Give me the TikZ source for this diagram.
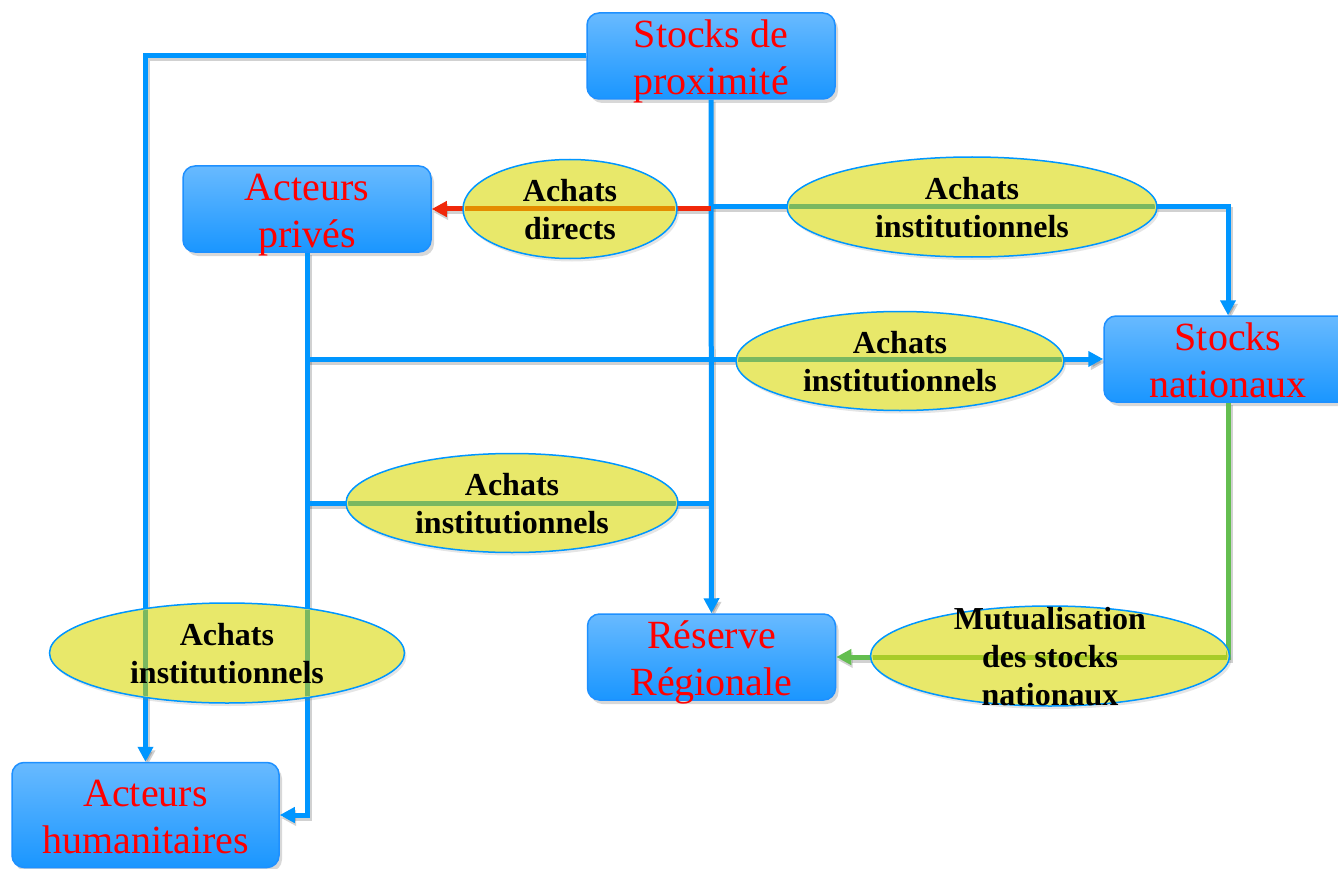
\documentclass[tikz,border=0pt]{standalone}
\usepackage{fontspec}
\setmainfont{Liberation Serif}
\usetikzlibrary{arrows.meta,shapes.geometric,shadows}
\definecolor{lnblue}{RGB}{0,150,255}
\definecolor{lnred}{RGB}{240,40,10}
\definecolor{lngreen}{RGB}{100,190,80}
\definecolor{tintblue}{RGB}{122,184,96}
\definecolor{tintred}{RGB}{228,140,0}
\definecolor{tintgreen}{RGB}{168,204,40}
\definecolor{boxtop}{RGB}{104,186,255}
\definecolor{boxbot}{RGB}{26,150,255}
\definecolor{boxborder}{RGB}{30,144,255}
\definecolor{ellfill}{RGB}{232,232,106}
\newcommand\hiStrut{\rule{0pt}{40pt}}
\newcommand\loStrut{\rule[-10pt]{0pt}{10pt}}
\newcommand\ehiStrut{\rule{0pt}{31pt}}
\newcommand\eloStrut{\rule[-9pt]{0pt}{9pt}}
\tikzset{
  box/.style={rectangle, rounded corners=12pt, draw=boxborder, line width=1.5pt,
    top color=boxtop, bottom color=boxbot, minimum width=248pt, minimum height=86pt,
    inner sep=0pt,
    drop shadow={shadow xshift=3pt, shadow yshift=-4pt, opacity=.3}},
  boxpos/.style={rectangle, minimum width=248pt, minimum height=86pt, inner sep=0pt},
  btext/.style={align=center, text=red, font=\fontsize{40}{47}\selectfont, inner sep=0pt},
  oval/.style={ellipse, draw=lnblue, line width=1.5pt, fill=ellfill, inner sep=0pt,
    drop shadow={shadow xshift=2pt, shadow yshift=-3pt, opacity=.2}},
  etext/.style={align=center, font=\fontsize{32}{38}\selectfont\bfseries, inner sep=0pt},
  bl/.style={draw=lnblue, line width=5pt},
  rl/.style={draw=lnred, line width=5pt},
  gl/.style={draw=lngreen, line width=5pt},
  tip/.style={-{Triangle[length=15pt,width=15pt]}},
}
\newcommand\drawLinks{%
  \draw[bl,tip] (sp.west) -| (ah.north);
  \draw[bl,tip] (sp.south) -- (rr.north);
  \draw[bl,tip] (ap.south) |- (ah.east);
  \draw[bl,tip] (ap.south |- sn.west) -- (sn.west);
  \draw[bl] (ap.south |- c4) -- (sp.south |- c4);
  \draw[bl,tip] (sp.south |- c2) -| (sn.north);
  \draw[rl,tip] (sp.south |- ap.east) -- (ap.east);
  \draw[gl,tip] (sn.south) |- (rr.east);
}
\begin{document}
\begin{tikzpicture}[x=1pt,y=-1pt]
\useasboundingbox (0,0) rectangle (1338,869);
\clip (0,0) rectangle (1338,869);
\fill[white] (0,0) rectangle (1338,869);
% ellipse centres
\coordinate (c1) at (570,209);
\coordinate (c2) at (972,207);
\coordinate (c3) at (900,361);
\coordinate (c4) at (512,503);
\coordinate (c5) at (227,653);
\coordinate (c6) at (1050,656);
% box positions (for the link shadows)
\path node[boxpos] (sp) at (711,56) {}
      node[boxpos] (ap) at (307,209) {}
      node[boxpos] (sn) at (1228,359) {}
      node[boxpos] (rr) at (711.5,657) {}
      node[boxpos, minimum width=267pt, minimum height=105pt] (ah) at (145.5,815) {};
% link shadows
\begin{scope}[transform canvas={xshift=2pt,yshift=-3pt}]
  \tikzset{bl/.style={draw=black, opacity=.18, line width=5pt},
           rl/.style={draw=black, opacity=.18, line width=5pt},
           gl/.style={draw=black, opacity=.18, line width=5pt}}
  \drawLinks
\end{scope}
% boxes
\node[box] (sp) at (711,56) {};
\node[box] (ap) at (307,209) {};
\node[box] (sn) at (1228,359) {};
\node[box] (rr) at (711.5,657) {};
\node[box, minimum width=267pt, minimum height=105pt] (ah) at (145.5,815) {};
% links
\drawLinks
% box texts
\node[btext] (spt) at (sp) {\hiStrut Stocks de\\proximité\loStrut};
\node[btext] (apt) at (ap) {\hiStrut Acteurs\\privés\loStrut};
\node[btext] (snt) at (sn) {\hiStrut Stocks\\nationaux\loStrut};
\node[btext] (rrt) at (rr) {\hiStrut Réserve\\Régionale\loStrut};
\node[btext] (aht) at (ah) {\hiStrut Acteurs\\humanitaires\loStrut};
% ellipses
\node[oval, minimum width=214pt, minimum height=99pt] (e1) at (c1) {};
\node[oval, minimum width=370pt, minimum height=100pt] (e2) at (c2) {};
\node[oval, minimum width=328pt, minimum height=99pt] (e3) at (c3) {};
\node[oval, minimum width=332pt, minimum height=99pt] (e4) at (c4) {};
\node[oval, minimum width=355pt, minimum height=100pt] (e5) at (c5) {};
\node[oval, minimum width=359pt, minimum height=100pt] (e6) at (c6) {};
% links seen through the ellipses
\begin{scope}
  \clip (c1) ellipse [x radius=105pt, y radius=48pt]
        (c2) ellipse [x radius=183pt, y radius=48.5pt]
        (c3) ellipse [x radius=162pt, y radius=48pt]
        (c4) ellipse [x radius=164pt, y radius=48pt]
        (c5) ellipse [x radius=175.5pt, y radius=48.5pt]
        (c6) ellipse [x radius=177.5pt, y radius=48.5pt];
  \tikzset{bl/.style={draw=tintblue, line width=5pt},
           rl/.style={draw=tintred, line width=5pt},
           gl/.style={draw=tintgreen, line width=5pt}}
  \drawLinks
\end{scope}
% ellipse texts
\node[etext] (t1) at (c1) {\ehiStrut Achats\\directs\eloStrut};
\node[etext] (t2) at (c2) {\ehiStrut Achats\\institutionnels\eloStrut};
\node[etext] (t3) at (c3) {\ehiStrut Achats\\institutionnels\eloStrut};
\node[etext] (t4) at (c4) {\ehiStrut Achats\\institutionnels\eloStrut};
\node[etext] (t5) at (c5) {\ehiStrut Achats\\institutionnels\eloStrut};
\node[etext] (t6) at (c6) {\ehiStrut Mutualisation\\des stocks\\nationaux\eloStrut};
\end{tikzpicture}
\end{document}
